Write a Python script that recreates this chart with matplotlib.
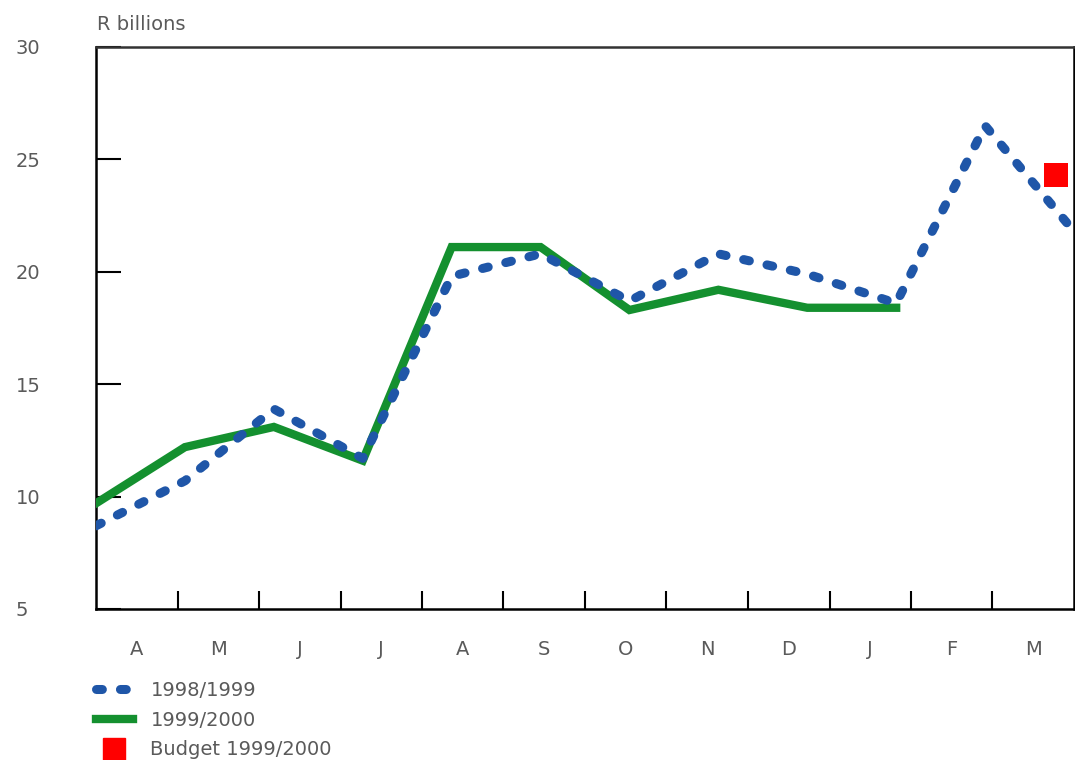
import matplotlib
matplotlib.use("Agg")
import matplotlib.pyplot as plt
from matplotlib.lines import Line2D

months = ["A", "M", "J", "J", "A", "S", "O", "N", "D", "J", "F", "M"]
series_9899 = [8.7, 10.7, 13.9, 11.7, 19.8, 20.8, 18.7, 20.8, 19.9, 18.6, 26.5, 21.8]
series_9900 = [9.7, 12.2, 13.1, 11.6, 21.1, 21.1, 18.3, 19.2, 18.4, 18.4]
budget_value = [24.3]
budget_pos = [10.8]
yticks = [5, 10, 15, 20, 25, 30]

blue = "#1f56a8"
green = "#14902f"
red = "#ff0000"
txt = "#5a5a5a"
dots = (0, (0.65, 2.0))

plt.rcParams['font.family'] = ['DejaVu Sans']

fig = plt.figure(figsize=(10.75, 7.6), dpi=100)
ax = fig.add_axes([96/1075, 1-609/760, 978/1075, 562/760])

n = len(series_9899)
x1 = list(range(len(series_9899)))
x2 = list(range(len(series_9900)))

ax.plot(x2, series_9900, color=green, lw=6, solid_joinstyle='miter', zorder=3)
ax.plot(x1, series_9899, color=blue, lw=6.5, linestyle=dots,
        dash_capstyle='round', zorder=4)
ax.scatter(budget_pos, budget_value, marker='s', s=300, color=red, zorder=5, linewidths=0)

ax.set_xlim(0, n - 1)
ax.set_ylim(5, 30)

step = (n - 1) / len(months)
ax.set_xticks([k * step for k in range(1, len(months))])
ax.set_xticklabels([])
ax.set_xticks([(k + 0.5) * step for k in range(len(months))], minor=True)
ax.set_xticklabels(months, minor=True)
ax.tick_params(axis='x', which='major', direction='in', length=13, width=1.5, color='black')
ax.tick_params(axis='x', which='minor', length=0, pad=22, labelsize=14, labelcolor=txt)

ax.set_yticks(yticks)
ax.set_yticklabels([str(v) for v in yticks])
ax.tick_params(axis='y', direction='in', length=18, width=1.5, pad=58, labelsize=14, labelcolor=txt)
for lab in ax.get_yticklabels():
    lab.set_ha('left')

for s in ax.spines.values():
    s.set_linewidth(1.8)
    s.set_color('black')
ax.spines['top'].set_color('#333333')

fig.text(97/1075, 1-25/760, "R billions", fontsize=14, color=txt, ha='left', va='center')

handles = [
    Line2D([], [], color=blue, lw=6.5, linestyle=dots, dash_capstyle='round'),
    Line2D([], [], color=green, lw=6),
    Line2D([], [], color=red, marker='s', markersize=16, linestyle='none'),
]
labels = ["1998/1999", "1999/2000", "Budget 1999/2000"]
leg = fig.legend(handles, labels, loc='upper left', bbox_to_anchor=(96/1075, 1-681/760),
                 frameon=False, fontsize=14, handlelength=1.9, handletextpad=0.9,
                 labelspacing=0.55, borderaxespad=0, borderpad=0)
for t in leg.get_texts():
    t.set_color(txt)

fig.savefig("out.png", dpi=100)
